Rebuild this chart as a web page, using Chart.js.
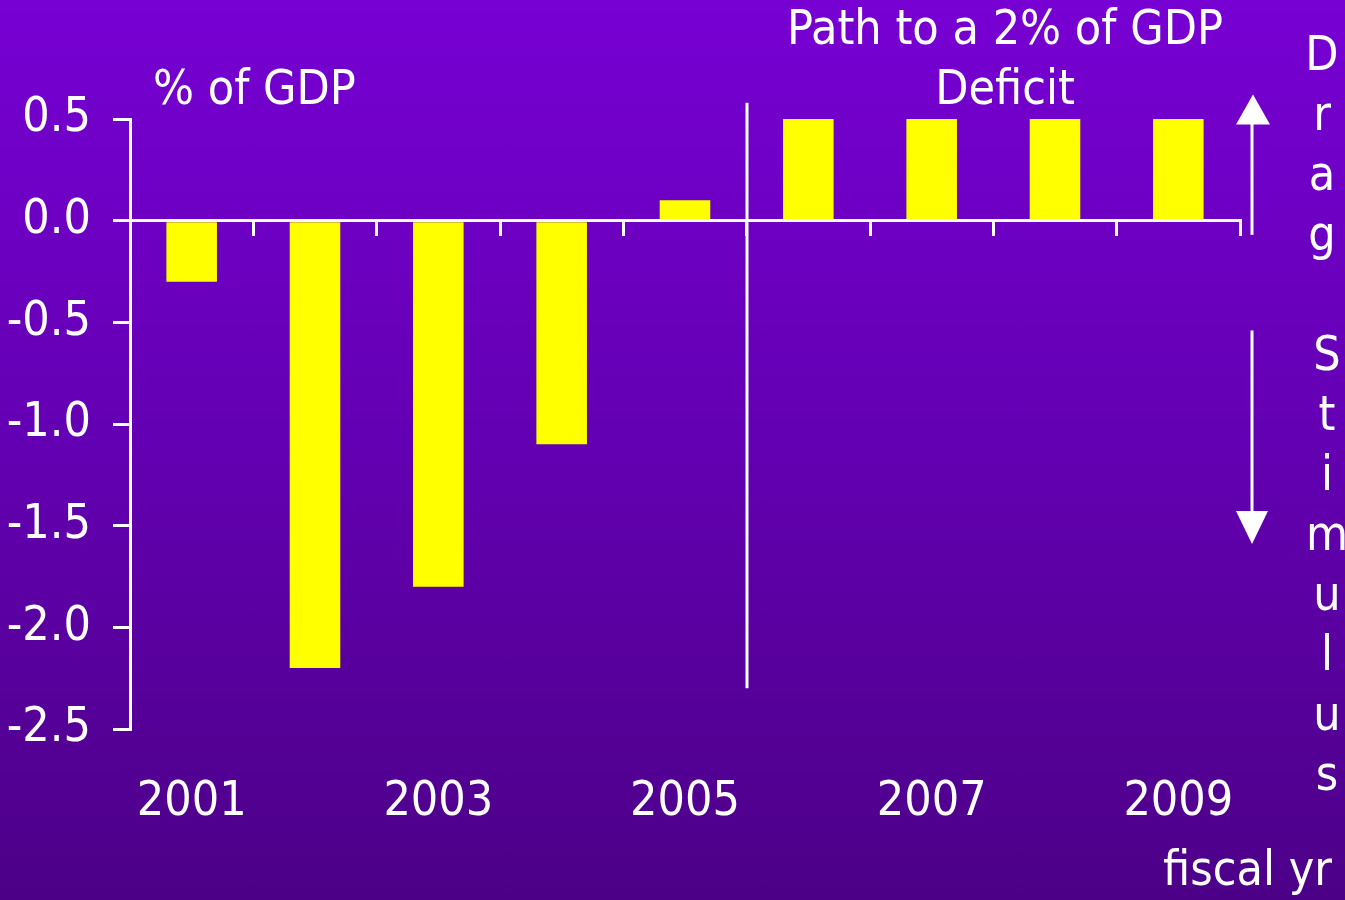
<!DOCTYPE html>
<html>
<head>
<meta charset="utf-8">
<script src="https://cdn.jsdelivr.net/npm/chart.js@4/dist/chart.umd.min.js"></script>
<style>
  html, body { margin: 0; padding: 0; }
  #wrap {
    width: 1345px;
    height: 900px;
    background: linear-gradient(to bottom, #7700d3, #6300b2 50%, #4c0087);
  }
  canvas { display: block; }
</style>
</head>
<body>
<div id="wrap"><canvas id="chart-fiscal" width="1345" height="900"></canvas></div>
<script>
const years = ['2001', '2002', '2003', '2004', '2005', '2006', '2007', '2008', '2009'];
const impulse = [-0.3, -2.2, -1.8, -1.1, 0.1, 0.5, 0.5, 0.5, 0.5];
const yTicks = [-2.5, -2.0, -1.5, -1.0, -0.5, 0.0, 0.5];

const FONT = '"DejaVu Sans Condensed", "DejaVu Sans", sans-serif';
const WHITE = '#ffffff';

// Divider between actual years and the projected path, plus Drag / Stimulus arrows
const annotations = {
  id: 'annotations',
  afterDatasetsDraw(chart) {
    const { ctx, scales: { x, y } } = chart;
    ctx.save();
    ctx.strokeStyle = WHITE;
    ctx.fillStyle = WHITE;
    ctx.lineWidth = 3;

    const divX = Math.round((x.getPixelForValue(4) + x.getPixelForValue(5)) / 2);
    ctx.beginPath();
    ctx.moveTo(divX, y.getPixelForValue(0.58));
    ctx.lineTo(divX, y.getPixelForValue(-2.3));
    ctx.stroke();

    const ax = chart.chartArea.right + 12;
    // up arrow: drag
    const upTop = y.getPixelForValue(0.62), upBot = y.getPixelForValue(-0.07);
    ctx.beginPath();
    ctx.moveTo(ax, upBot);
    ctx.lineTo(ax, upTop + 28);
    ctx.stroke();
    ctx.beginPath();
    ctx.moveTo(ax + 1, upTop);
    ctx.lineTo(ax + 18, upTop + 30);
    ctx.lineTo(ax - 16, upTop + 30);
    ctx.closePath();
    ctx.fill();

    // down arrow: stimulus
    const dnTop = y.getPixelForValue(-0.54), dnBot = y.getPixelForValue(-1.59);
    ctx.beginPath();
    ctx.moveTo(ax, dnTop);
    ctx.lineTo(ax, dnBot - 28);
    ctx.stroke();
    ctx.beginPath();
    ctx.moveTo(ax, dnBot);
    ctx.lineTo(ax + 16, dnBot - 33);
    ctx.lineTo(ax - 16, dnBot - 33);
    ctx.closePath();
    ctx.fill();

    // text labels
    ctx.font = '48px ' + FONT;
    ctx.textBaseline = 'alphabetic';
    ctx.textAlign = 'left';
    ctx.fillText('% of GDP', 153, 104);
    ctx.textAlign = 'center';
    ctx.fillText('Path to a 2% of GDP', 1005, 44);
    ctx.fillText('Deficit', 1005, 104);
    'Drag'.split('').forEach((c, i) => ctx.fillText(c, 1322, 70 + i * 60));
    'Stimulus'.split('').forEach((c, i) => ctx.fillText(c, 1327, 370 + i * 60));
    ctx.textAlign = 'right';
    ctx.fillText('fiscal yr', 1332, 885);
    ctx.restore();
  }
};

new Chart(document.getElementById('chart-fiscal'), {
  type: 'bar',
  data: {
    labels: years,
    datasets: [{
      data: impulse,
      backgroundColor: '#ffff00',
      borderWidth: 0,
      barPercentage: 0.41,
      categoryPercentage: 1.0,
      xAxisID: 'x',
      yAxisID: 'y'
    }]
  },
  options: {
    responsive: false,
    animation: false,
    layout: { padding: { top: 119, right: 105, left: 0, bottom: 0 } },
    plugins: {
      legend: { display: false },
      tooltip: { enabled: false }
    },
    scales: {
      x: {
        position: { y: 0 },
        offset: true,
        ticks: { display: false },
        grid: { drawOnChartArea: false, drawTicks: true, tickLength: 14, color: WHITE, lineWidth: 3 },
        border: { display: true, color: WHITE, width: 3 }
      },
      x2: {
        type: 'category',
        position: 'bottom',
        offset: true,
        grid: { display: false, drawTicks: false },
        border: { display: false },
        ticks: {
          color: WHITE,
          font: { size: 48, family: FONT },
          padding: 45,
          autoSkip: false,
          maxRotation: 0,
          callback: (val, i) => (i % 2 === 0 ? years[i] : '')
        },
        afterFit: (scale) => { scale.height = 171; }
      },
      y: {
        min: -2.5,
        max: 0.5,
        afterBuildTicks: (scale) => { scale.ticks = yTicks.map(v => ({ value: v })); },
        ticks: {
          color: WHITE,
          font: { size: 48, family: FONT },
          padding: 22,
          callback: (val) => val.toFixed(1)
        },
        grid: { drawOnChartArea: false, drawTicks: true, tickLength: 17, color: WHITE, lineWidth: 3 },
        border: { display: true, color: WHITE, width: 3 },
        afterFit: (scale) => { scale.width = 130; }
      }
    }
  },
  plugins: [annotations]
});
</script>
</body>
</html>
